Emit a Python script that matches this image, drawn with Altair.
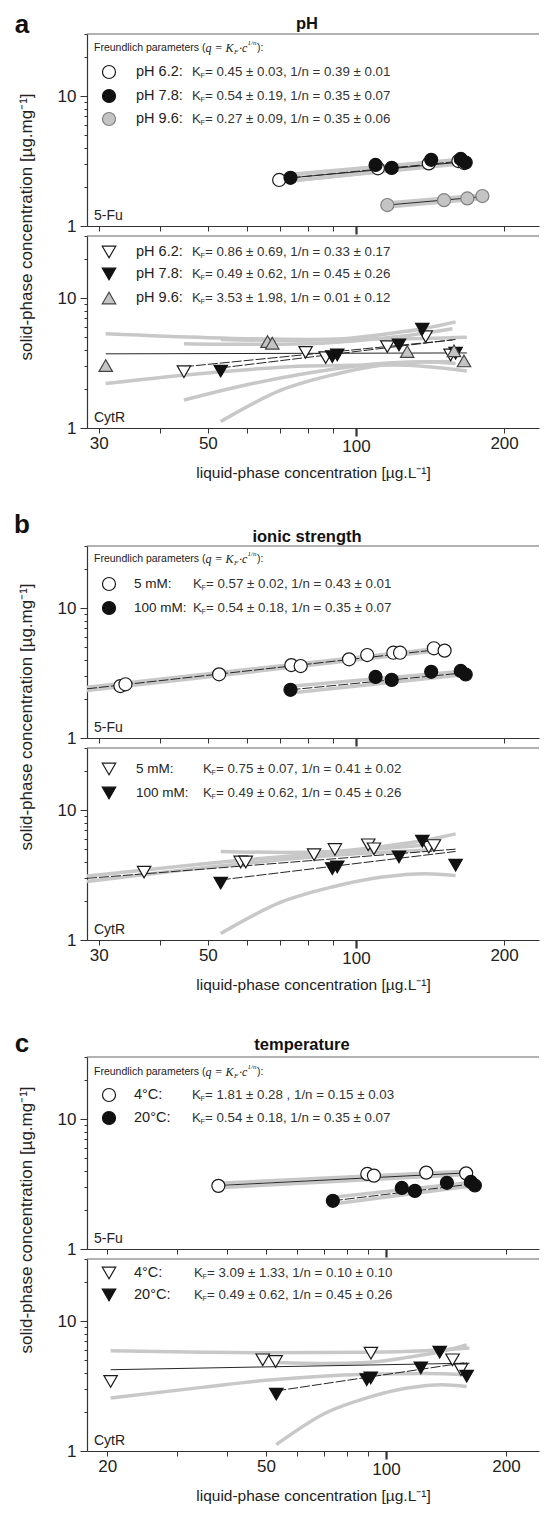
import altair as alt
import pandas as pd

FONT = "Liberation Sans"
SERIF = "Liberation Serif"

# ---------------- axis ticks / labels ----------------
X_TICKS_AB = [30, 40, 50, 60, 70, 80, 90, 100, 200]
X_LABELS_AB = [30, 50, 100, 200]
X_TICKS_C = [20, 30, 40, 50, 60, 70, 80, 90, 100, 200]
X_LABELS_C = [20, 50, 100, 200]
Y_TICKS = [1, 2, 3, 4, 5, 6, 7, 8, 9, 10, 20, 30]
Y_LABELS = [1, 10]

# ---------------- 5-Fu measured points ----------------
FU_REF_X = [73.6, 109.6, 118.2, 142.2, 163.3, 167.1]      # pH 7.8 / 100 mM / 20 C
FU_REF_Y = [2.35, 2.95, 2.80, 3.23, 3.28, 3.08]
FU_PH62_X = [69.8, 110.8, 140.6, 161.5, 166.0]
FU_PH62_Y = [2.26, 2.78, 3.03, 3.16, 3.05]
FU_PH96_X = [115.8, 151.0, 168.4, 180.7]
FU_PH96_Y = [1.45, 1.58, 1.63, 1.70]
FU_5MM_X = [33.2, 34.0, 52.7, 73.9, 77.2, 96.8, 105.4, 119.1, 122.9, 144.0, 151.4]
FU_5MM_Y = [2.51, 2.59, 3.09, 3.64, 3.58, 4.03, 4.35, 4.53, 4.53, 4.90, 4.70]
FU_4C_X = [38.0, 89.8, 93.3, 126.2, 158.9]
FU_4C_Y = [3.06, 3.78, 3.67, 3.87, 3.82]

# ---------------- CytR measured points ----------------
CYT_REF_X = [53.1, 89.5, 91.6, 122.3, 136.4, 159.4]      # pH 7.8 / 100 mM / 20 C
CYT_REF_Y = [2.74, 3.54, 3.65, 4.36, 5.76, 3.76]
CYT_PH62_X = [44.7, 79.0, 86.8, 115.8, 138.6, 155.7]
CYT_PH62_Y = [2.71, 3.82, 3.48, 4.23, 5.05, 3.65]
CYT_PH96_X = [31.0, 66.1, 67.6, 127.1, 158.2, 165.8]
CYT_PH96_Y = [3.02, 4.62, 4.49, 3.87, 3.92, 3.28]
CYT_5MM_X = [37.1, 58.3, 59.7, 82.2, 90.6, 105.9, 108.8, 140.6, 144.0]
CYT_5MM_Y = [3.33, 3.98, 3.98, 4.53, 4.97, 5.40, 5.03, 5.18, 5.33]
CYT_4C_X = [20.4, 49.1, 52.9, 91.7, 146.9, 154.2]
CYT_4C_Y = [3.43, 5.03, 4.88, 5.66, 5.03, 4.22]

# ---------------- fitted isotherms (read end points) ----------------
FIT_FU_REF_X, FIT_FU_REF_Y = [73.6, 167.1], [2.35, 3.18]
FIT_FU_PH62_X, FIT_FU_PH62_Y = [69.8, 166.0], [2.30, 3.12]
FIT_FU_PH96_X, FIT_FU_PH96_Y = [115.8, 180.7], [1.45, 1.68]
FIT_FU_5MM_X, FIT_FU_5MM_Y = [28.4, 151.4], [2.39, 4.85]
FIT_FU_4C_X, FIT_FU_4C_Y = [38.0, 158.9], [3.08, 3.85]
FIT_CYT_REF_X, FIT_CYT_REF_Y = [53.1, 159.4], [2.90, 4.80]
FIT_CYT_PH62_X, FIT_CYT_PH62_Y = [44.7, 157.0], [2.96, 4.75]
FIT_CYT_PH96_X, FIT_CYT_PH96_Y = [31.0, 168.0], [3.72, 3.78]
FIT_CYT_5MM_X, FIT_CYT_5MM_Y = [28.4, 159.4], [2.98, 5.00]
FIT_CYT_4C_X, FIT_CYT_4C_Y = [20.4, 162.0], [4.22, 4.74]

# ---------------- confidence bands (upper / lower) ----------------
BAND_FU_REF_X = [73.6, 167.1]
BAND_FU_REF_UP, BAND_FU_REF_LO = [2.50, 3.28], [2.22, 3.08]
BAND_FU_PH62_X = [69.8, 166.0]
BAND_FU_PH62_UP, BAND_FU_PH62_LO = [2.42, 3.25], [2.18, 3.02]
BAND_FU_PH96_X = [115.8, 180.7]
BAND_FU_PH96_UP, BAND_FU_PH96_LO = [1.50, 1.73], [1.40, 1.63]
BAND_FU_5MM_X = [28.4, 151.4]
BAND_FU_5MM_UP, BAND_FU_5MM_LO = [2.46, 4.95], [2.32, 4.75]
BAND_FU_4C_X = [38.0, 158.9]
BAND_FU_4C_UP, BAND_FU_4C_LO = [3.20, 3.97], [2.96, 3.74]

BAND_CYT_REF_X = [53.1, 70.8, 89.5, 113.1, 138.6, 159.4]
BAND_CYT_REF_UP = [4.80, 4.72, 4.80, 5.25, 5.85, 6.55]
BAND_CYT_REF_LO = [1.12, 1.97, 2.56, 3.05, 3.24, 3.14]
BAND_CYT_PH62_X = [44.7, 60.0, 80.0, 100.0, 125.0, 157.0]
BAND_CYT_PH62_UP = [4.45, 4.40, 4.45, 4.70, 5.10, 5.80]
BAND_CYT_PH62_LO = [1.64, 2.15, 2.65, 3.00, 3.20, 3.25]
BAND_CYT_PH96_X = [31.0, 50.0, 80.0, 120.0, 168.0]
BAND_CYT_PH96_UP = [5.30, 4.95, 4.80, 4.85, 5.00]
BAND_CYT_PH96_LO = [2.20, 2.65, 3.00, 3.05, 2.75]
BAND_CYT_5MM_X = [28.4, 60.0, 100.0, 145.0]
BAND_CYT_5MM_UP = [3.10, 4.15, 4.85, 5.45]
BAND_CYT_5MM_LO = [2.82, 3.90, 4.60, 4.95]
BAND_CYT_4C_X = [20.4, 35.0, 50.0, 90.0, 125.0, 162.0]
BAND_CYT_4C_UP = [5.90, 5.75, 5.70, 5.75, 5.90, 6.20]
BAND_CYT_4C_LO = [2.56, 3.10, 3.50, 3.90, 3.95, 3.85]

# ---------------- texts ----------------
LETTERS = ["a", "b", "c"]
TITLES = ["pH", "ionic strength", "temperature"]
A_LABELS = ["pH 6.2:", "pH 7.8:", "pH 9.6:"]
A_FU_PARAMS = ["= 0.45 ± 0.03, 1/n = 0.39 ± 0.01",
               "= 0.54 ± 0.19, 1/n = 0.35 ± 0.07",
               "= 0.27 ± 0.09, 1/n = 0.35 ± 0.06"]
A_CYT_PARAMS = ["= 0.86 ± 0.69, 1/n = 0.33 ± 0.17",
                "= 0.49 ± 0.62, 1/n = 0.45 ± 0.26",
                "= 3.53 ± 1.98, 1/n = 0.01 ± 0.12"]
B_LABELS = ["5 mM:", "100 mM:"]
B_FU_PARAMS = ["= 0.57 ± 0.02, 1/n = 0.43 ± 0.01",
               "= 0.54 ± 0.18, 1/n = 0.35 ± 0.07"]
B_CYT_PARAMS = ["= 0.75 ± 0.07, 1/n = 0.41 ± 0.02",
                "= 0.49 ± 0.62, 1/n = 0.45 ± 0.26"]
C_LABELS = ["4°C:", "20°C:"]
C_FU_PARAMS = ["= 1.81 ± 0.28 , 1/n = 0.15 ± 0.03",
               "= 0.54 ± 0.18, 1/n = 0.35 ± 0.07"]
C_CYT_PARAMS = ["= 3.09 ± 1.33, 1/n = 0.10 ± 0.10",
                "= 0.49 ± 0.62, 1/n = 0.45 ± 0.26"]
TAGS = ["5-Fu", "CytR"]
XTITLE = "liquid-phase concentration [µg.L⁻¹]"
YTITLE = "solid-phase concentration [µg.mg⁻¹]"

# ---------------- styles ----------------
W, H = 452, 192
BAND = "#c8c8c8"
FRAME = "#666666"
DASH = [10, 2]
STYLE = {
    "oc": dict(shape="circle", fill="white", stroke="#1a1a1a", size=170),
    "bc": dict(shape="circle", fill="#111111", stroke="#111111", size=170),
    "gc": dict(shape="circle", fill="#c4c4c4", stroke="#808080", size=170),
    "ot": dict(shape="triangle-down", fill="white", stroke="#1a1a1a", size=180),
    "bt": dict(shape="triangle-down", fill="#111111", stroke="#111111", size=180),
    "gt": dict(shape="triangle-up", fill="#c4c4c4", stroke="#444444", size=180),
}


def txt(s, x, y, size=13.3, weight="normal", style="normal", font=FONT,
        align="left", baseline="middle", angle=0, color="#222222"):
    return alt.Chart(pd.DataFrame({"t": [s]})).mark_text(
        align=align, baseline=baseline, fontSize=size, fontWeight=weight,
        fontStyle=style, font=font, color=color, angle=angle
    ).encode(text="t:N", x=alt.value(x), y=alt.value(y))


def sym(key, x, y):
    st = STYLE[key]
    return alt.Chart(pd.DataFrame({"k": [key]})).mark_point(
        shape=st["shape"], size=st["size"], filled=True, fill=st["fill"],
        stroke=st["stroke"], strokeWidth=1.2, opacity=1
    ).encode(x=alt.value(x), y=alt.value(y))


def top_frame():
    return alt.Chart(pd.DataFrame({"k": [0]})).mark_rule(
        color=FRAME, strokeWidth=1.2
    ).encode(x=alt.value(0), x2=alt.value(W), y=alt.value(0))


def kf(x, y, rest, size=13.3):
    return [txt("K", x, y, size, color="#333333"),
            txt("F", x + 8.6, y + 4, size * 0.55, color="#333333"),
            txt(rest, x + 13, y, size, color="#333333")]


def header(x, y):
    return [txt("Freundlich parameters (", x, y, 10.5),
            txt("q = K", x + 111.5, y, 12, style="italic", font=SERIF),
            txt("F", x + 140, y + 3.5, 7, style="italic", font=SERIF),
            txt("·c", x + 145, y, 12, style="italic", font=SERIF),
            txt("1/n", x + 153.5, y - 5, 7, style="italic", font=SERIF),
            txt("):", x + 163, y, 10.5)]


def rows(keys, labels, params, ys, xlab, xk, lsize=14.5):
    out = []
    for k, lab, par, yy in zip(keys, labels, params, ys):
        out.append(sym(k, 22, yy))
        out.append(txt(lab, xlab, yy, lsize))
        out.extend(kf(xk, yy, par))
    return out


def cond(test, a, b):
    return {"condition": {"test": test, "value": a}, "value": b}


def panel(xdom, xticks, xlabs, bottom, bands, fits, series, decor):
    lab_expr = "indexof(%s, datum.value) >= 0 ? format(datum.value, 'd') : ''" % str(list(xlabs))
    xaxis = alt.Axis(values=xticks, labelExpr=lab_expr, labels=bottom,
                     labelOverlap=False, labelFlush=False,
                     tickSize=cond("datum.value == 100", 8, 5),
                     tickWidth=cond("datum.value == 100", 2.2, 1),
                     labelPadding=2, titlePadding=11,
                     title=XTITLE if bottom else "")
    ylab = "indexof(%s, datum.value) >= 0 ? format(datum.value, 'd') : ''" % str(Y_LABELS)
    yaxis = alt.Axis(values=Y_TICKS, labelExpr=ylab, labelOverlap=False,
                     labelFlush=False,
                     tickSize=cond("datum.value == 1 || datum.value == 10", 7, 3),
                     labelPadding=4, title="")
    X = alt.X("x:Q", scale=alt.Scale(type="log", domain=xdom, nice=False), axis=xaxis)
    Y = alt.Y("y:Q", scale=alt.Scale(type="log", domain=[1, 30], nice=False), axis=yaxis)
    layers = [top_frame()]
    for bx, by in bands:
        layers.append(alt.Chart(pd.DataFrame({"x": bx, "y": by})).mark_line(
            color=BAND, strokeWidth=3.5, interpolate="monotone", clip=True
        ).encode(x=X, y=Y))
    for fx, fy, dashed in fits:
        kw = dict(color="#262626", strokeWidth=1, clip=True)
        if dashed:
            kw["strokeDash"] = DASH
        layers.append(alt.Chart(pd.DataFrame({"x": fx, "y": fy})).mark_line(**kw).encode(x=X, y=Y))
    for key, sx, sy in series:
        st = STYLE[key]
        layers.append(alt.Chart(pd.DataFrame({"x": sx, "y": sy})).mark_point(
            shape=st["shape"], size=st["size"], filled=True, fill=st["fill"],
            stroke=st["stroke"], strokeWidth=1.2, opacity=1, clip=True
        ).encode(x=X, y=Y))
    layers.extend(decor)
    return alt.layer(*layers).properties(width=W, height=H)


XD_AB = [28.4, 235.5]
XD_C = [17.8, 242]

# ---------- group a ----------
a_top = panel(
    XD_AB, X_TICKS_AB, X_LABELS_AB, False,
    [(BAND_FU_PH62_X, BAND_FU_PH62_UP), (BAND_FU_PH62_X, BAND_FU_PH62_LO),
     (BAND_FU_REF_X, BAND_FU_REF_UP), (BAND_FU_REF_X, BAND_FU_REF_LO),
     (BAND_FU_PH96_X, BAND_FU_PH96_UP), (BAND_FU_PH96_X, BAND_FU_PH96_LO)],
    [(FIT_FU_PH62_X, FIT_FU_PH62_Y, False), (FIT_FU_REF_X, FIT_FU_REF_Y, True),
     (FIT_FU_PH96_X, FIT_FU_PH96_Y, False)],
    [("oc", FU_PH62_X, FU_PH62_Y), ("bc", FU_REF_X, FU_REF_Y), ("gc", FU_PH96_X, FU_PH96_Y)],
    header(7, 14) + rows(["oc", "bc", "gc"], A_LABELS, A_FU_PARAMS, [38, 62, 85], 49, 105)
    + [txt(TAGS[0], 7, 186, 14, baseline="alphabetic"),
       txt(LETTERS[0], -65, -1, 26, weight="bold", align="center", baseline="alphabetic", color="#111111"),
       txt(TITLES[0], 220, -5, 16.5, weight="bold", align="center", baseline="alphabetic", color="#111111"),
       txt(YTITLE, -60, 193, 17, align="center", angle=270)]
)
a_bot = panel(
    XD_AB, X_TICKS_AB, X_LABELS_AB, True,
    [(BAND_CYT_PH96_X, BAND_CYT_PH96_UP), (BAND_CYT_PH96_X, BAND_CYT_PH96_LO),
     (BAND_CYT_PH62_X, BAND_CYT_PH62_UP), (BAND_CYT_PH62_X, BAND_CYT_PH62_LO),
     (BAND_CYT_REF_X, BAND_CYT_REF_UP), (BAND_CYT_REF_X, BAND_CYT_REF_LO)],
    [(FIT_CYT_PH96_X, FIT_CYT_PH96_Y, False), (FIT_CYT_PH62_X, FIT_CYT_PH62_Y, True),
     (FIT_CYT_REF_X, FIT_CYT_REF_Y, True)],
    [("ot", CYT_PH62_X, CYT_PH62_Y), ("bt", CYT_REF_X, CYT_REF_Y), ("gt", CYT_PH96_X, CYT_PH96_Y)],
    rows(["ot", "bt", "gt"], A_LABELS, A_CYT_PARAMS, [16, 38, 62], 49, 105)
    + [txt(TAGS[1], 7, 186, 14, baseline="alphabetic")]
)

# ---------- group b ----------
b_top = panel(
    XD_AB, X_TICKS_AB, X_LABELS_AB, False,
    [(BAND_FU_5MM_X, BAND_FU_5MM_UP), (BAND_FU_5MM_X, BAND_FU_5MM_LO),
     (BAND_FU_REF_X, BAND_FU_REF_UP), (BAND_FU_REF_X, BAND_FU_REF_LO)],
    [(FIT_FU_5MM_X, FIT_FU_5MM_Y, True), (FIT_FU_REF_X, FIT_FU_REF_Y, True)],
    [("oc", FU_5MM_X, FU_5MM_Y), ("bc", FU_REF_X, FU_REF_Y)],
    header(7, 13) + rows(["oc", "bc"], B_LABELS, B_FU_PARAMS, [38, 62], 47, 106, 13.5)
    + [txt(TAGS[0], 7, 186, 14, baseline="alphabetic"),
       txt(LETTERS[1], -65, -13, 26, weight="bold", align="center", baseline="alphabetic", color="#111111"),
       txt(TITLES[1], 220, -4, 16.5, weight="bold", align="center", baseline="alphabetic", color="#111111"),
       txt(YTITLE, -60, 171, 17, align="center", angle=270)]
)
b_bot = panel(
    XD_AB, X_TICKS_AB, X_LABELS_AB, True,
    [(BAND_CYT_5MM_X, BAND_CYT_5MM_UP), (BAND_CYT_5MM_X, BAND_CYT_5MM_LO),
     (BAND_CYT_REF_X, BAND_CYT_REF_UP), (BAND_CYT_REF_X, BAND_CYT_REF_LO)],
    [(FIT_CYT_5MM_X, FIT_CYT_5MM_Y, True), (FIT_CYT_REF_X, FIT_CYT_REF_Y, True)],
    [("ot", CYT_5MM_X, CYT_5MM_Y), ("bt", CYT_REF_X, CYT_REF_Y)],
    rows(["ot", "bt"], B_LABELS, B_CYT_PARAMS, [21, 45], 49, 116, 13.5)
    + [txt(TAGS[1], 7, 186, 14, baseline="alphabetic")]
)

# ---------- group c ----------
c_top = panel(
    XD_C, X_TICKS_C, X_LABELS_C, False,
    [(BAND_FU_4C_X, BAND_FU_4C_UP), (BAND_FU_4C_X, BAND_FU_4C_LO),
     (BAND_FU_REF_X, BAND_FU_REF_UP), (BAND_FU_REF_X, BAND_FU_REF_LO)],
    [(FIT_FU_4C_X, FIT_FU_4C_Y, False), (FIT_FU_REF_X, FIT_FU_REF_Y, True)],
    [("oc", FU_4C_X, FU_4C_Y), ("bc", FU_REF_X, FU_REF_Y)],
    header(7, 15) + rows(["oc", "bc"], C_LABELS, C_FU_PARAMS, [38, 61], 47, 105)
    + [txt(TAGS[0], 7, 186, 14, baseline="alphabetic"),
       txt(LETTERS[2], -65, -5, 26, weight="bold", align="center", baseline="alphabetic", color="#111111"),
       txt(TITLES[2], 215, -7, 16.5, weight="bold", align="center", baseline="alphabetic", color="#111111"),
       txt(YTITLE, -60, 163, 17, align="center", angle=270)]
)
c_bot = panel(
    XD_C, X_TICKS_C, X_LABELS_C, True,
    [(BAND_CYT_4C_X, BAND_CYT_4C_UP), (BAND_CYT_4C_X, BAND_CYT_4C_LO),
     (BAND_CYT_REF_X, BAND_CYT_REF_UP), (BAND_CYT_REF_X, BAND_CYT_REF_LO)],
    [(FIT_CYT_4C_X, FIT_CYT_4C_Y, False), (FIT_CYT_REF_X, FIT_CYT_REF_Y, True)],
    [("ot", CYT_4C_X, CYT_4C_Y), ("bt", CYT_REF_X, CYT_REF_Y)],
    rows(["ot", "bt"], C_LABELS, C_CYT_PARAMS, [14, 36], 47, 107)
    + [txt(TAGS[1], 7, 186, 14, baseline="alphabetic")]
)


def spacer(h):
    return alt.Chart(pd.DataFrame({"v": [0]})).mark_point(opacity=0).encode(
        x=alt.value(0), y=alt.value(0)
    ).properties(width=W, height=h)


chart = alt.vconcat(
    a_top, a_bot, spacer(98), b_top, b_bot, spacer(97), c_top, c_bot,
    spacing=10, bounds="flush"
).properties(
    padding={"left": 6, "top": 4, "right": 0, "bottom": 0}
).configure(
    font=FONT
).configure_view(
    strokeOpacity=0
).configure_axis(
    labelFont=FONT, labelFontSize=17, labelColor="#222222",
    titleFont=FONT, titleFontSize=15.5, titleFontWeight="normal", titleColor="#222222",
    domainColor="#333333", domainWidth=1.2, tickColor="#333333", grid=False
)

chart.save("out.html", embed_options={"renderer": "svg", "actions": False})
